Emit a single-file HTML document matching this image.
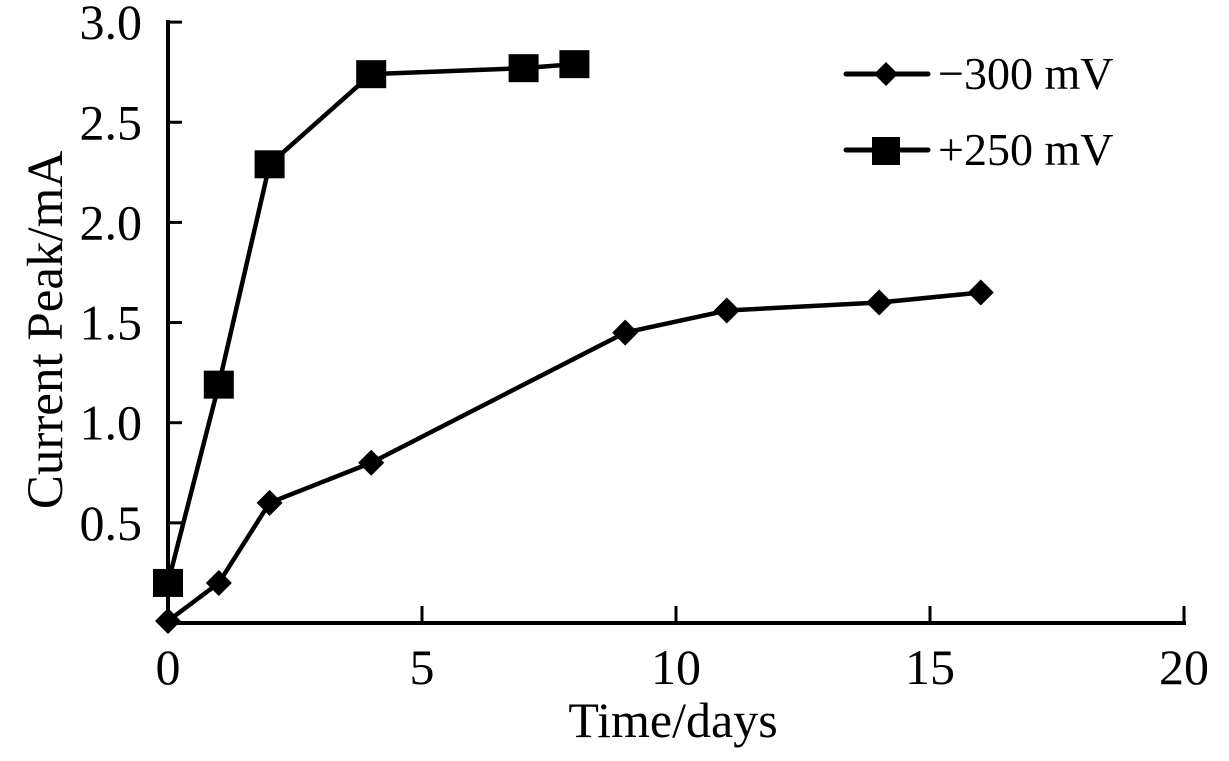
<!DOCTYPE html>
<html><head><meta charset="utf-8"><style>
body{margin:0;background:#fff}
svg text{font-family:"Liberation Serif",serif;fill:#000}
</style></head><body>
<svg width="1229" height="756">
<g id="axes"></g>
<g id="marks"></g>
<text x="673" y="737" font-size="50" text-anchor="middle">Time/days</text>
<text transform="translate(62,330) rotate(-90)" font-size="51" text-anchor="middle">Current Peak/mA</text>
<g>
<g>
<line x1="846" y1="74" x2="928" y2="74" stroke="#000" stroke-width="5" stroke-linecap="round"/>
<polygon points="886,62 898,74 886,86 874,74" fill="#000"/>
<text x="938" y="89" font-size="46">−300 mV</text></g>
<g>
<line x1="846" y1="150" x2="928" y2="150" stroke="#000" stroke-width="5" stroke-linecap="round"/>
<rect x="872" y="137" width="28" height="28" fill="#000"/>
<text x="938" y="165" font-size="46">+250 mV</text></g>
</g>
</svg>
<script>
const xTicks=[0,5,10,15,20];
const yTicks=[0.5,1.0,1.5,2.0,2.5,3.0];
const daysA=[0,1,2,4,9,11,14,16];
const valsA=[0.01,0.2,0.6,0.8,1.45,1.56,1.6,1.65];
const daysB=[0,1,2,4,7,8];
const valsB=[0.2,1.19,2.29,2.74,2.77,2.79];
const NS='http://www.w3.org/2000/svg';
const X=v=>168+v*50.8, Y=v=>623-v*200.3;
const ax=document.getElementById('axes'), mk=document.getElementById('marks');
function el(t,a,p){const e=document.createElementNS(NS,t);for(const k in a)e.setAttribute(k,a[k]);p.appendChild(e);return e;}
el('line',{x1:168,y1:20,x2:168,y2:625,stroke:'#000','stroke-width':4},ax);
el('line',{x1:166,y1:623,x2:1186,y2:623,stroke:'#000','stroke-width':4},ax);
xTicks.forEach(t=>{
 if(t>0){const l=el('line',{x1:X(t),y1:623,x2:X(t),y2:606,stroke:'#000','stroke-width':3},ax);
 
 }
 const tx=el('text',{x:X(t),y:684,'font-size':50,'text-anchor':'middle'},ax);tx.textContent=t;
 
 
});
yTicks.forEach(t=>{
 const l=el('line',{x1:168,y1:Y(t),x2:182,y2:Y(t),stroke:'#000','stroke-width':3},ax);
 
 
 const tx=el('text',{x:142,y:Y(t)+17,'font-size':50,'text-anchor':'end'},ax);tx.textContent=t.toFixed(1);
 
 
});
function series(d,v,name,sq){
 const pl=el('polyline',{points:d.map((x,i)=>X(x)+','+Y(v[i])).join(' '),fill:'none',stroke:'#000','stroke-width':4.5,'stroke-linejoin':'round'},mk);
 
 
 d.forEach((x,i)=>{const cx=X(x),cy=Y(v[i]);let m;
  if(sq)m=el('rect',{x:cx-15,y:cy-14,width:30,height:28,fill:'#000'},mk);
  else m=el('polygon',{points:`${cx},${cy-13} ${cx+13},${cy} ${cx},${cy+13} ${cx-13},${cy}`,fill:'#000'},mk);
  
  
 });
}
series(daysA,valsA,'neg300',false);
series(daysB,valsB,'pos250',true);
</script>
</body></html>
